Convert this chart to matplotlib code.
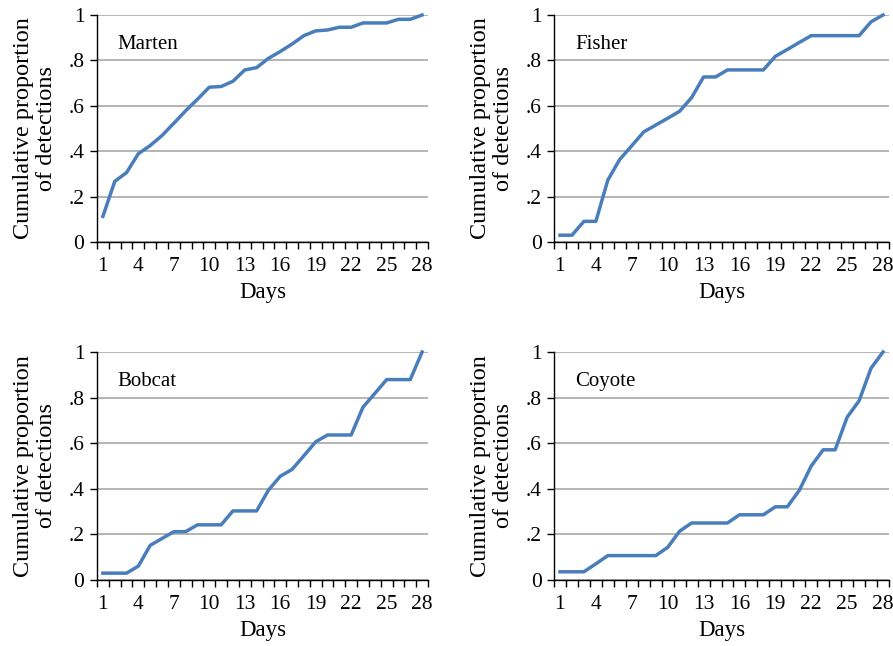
from matplotlib import pyplot as plt
import numpy

days = list(range(1, 29))

marten = [0.113, 0.267, 0.306, 0.389, 0.425, 0.469, 0.523, 0.578, 0.629, 0.682,
          0.685, 0.708, 0.758, 0.768, 0.809, 0.839, 0.872, 0.909, 0.930, 0.934,
          0.946, 0.946, 0.965, 0.965, 0.965, 0.981, 0.981, 1.0]
fisher = [0.030, 0.030, 0.091, 0.091, 0.273, 0.364, 0.424, 0.485, 0.515, 0.545,
          0.576, 0.636, 0.727, 0.727, 0.758, 0.758, 0.758, 0.758, 0.818, 0.848,
          0.879, 0.909, 0.909, 0.909, 0.909, 0.909, 0.970, 1.0]
bobcat = [0.030, 0.030, 0.030, 0.061, 0.152, 0.182, 0.212, 0.212, 0.242, 0.242,
          0.242, 0.303, 0.303, 0.303, 0.394, 0.455, 0.485, 0.545, 0.606, 0.636,
          0.636, 0.636, 0.758, 0.818, 0.879, 0.879, 0.879, 1.0]
coyote = [0.036, 0.036, 0.036, 0.071, 0.107, 0.107, 0.107, 0.107, 0.107, 0.143,
          0.214, 0.250, 0.250, 0.250, 0.250, 0.286, 0.286, 0.286, 0.321, 0.321,
          0.393, 0.500, 0.571, 0.571, 0.714, 0.786, 0.929, 1.0]

species = ['Marten', 'Fisher', 'Bobcat', 'Coyote']
series = [marten, fisher, bobcat, coyote]

x_labels = [1, 4, 7, 10, 13, 16, 19, 22, 25, 28]
y_ticks = [0, 0.2, 0.4, 0.6, 0.8, 1.0]
y_labels = ['0', '.2', '.4', '.6', '.8', '1']

plt.rcParams['font.family'] = ['Liberation Serif', 'DejaVu Serif']

W, H = 893, 646
# panel boxes in pixels: left, right, top, bottom
boxes = [(97, 428, 15, 242), (554, 889, 15, 242),
         (97, 428, 352, 580), (554, 889, 352, 580)]

fig = plt.figure(figsize=(W / 100, H / 100), dpi=100)

for name, vals, (l, r, t, b) in zip(species, series, boxes):
    ax = fig.add_axes([l / W, 1 - b / H, (r - l) / W, (b - t) / H])
    ax.plot(days, vals, color='#4a7ebb', lw=2.5, solid_joinstyle='round', clip_on=False)
    ax.set_xlim(0.5, 28.5)
    ax.set_ylim(0, 1)
    # labels at category centers, tick marks at category boundaries
    ax.set_xticks(x_labels)
    ax.set_xticklabels([str(d) for d in x_labels])
    ax.tick_params(axis='x', which='major', length=0, pad=11, labelsize=15.5)
    ax.set_xticks(numpy.arange(0.5, 29, 1), minor=True)
    ax.tick_params(axis='x', which='minor', length=5, direction='out', width=1)
    ax.set_yticks(y_ticks)
    ax.set_yticklabels(y_labels)
    ax.tick_params(axis='y', length=5, direction='out', width=1, labelsize=15.5, pad=4)
    ax.grid(axis='y', color='#a0a0a0', lw=1.1)
    ax.set_axisbelow(True)
    for s in ['top', 'right']:
        ax.spines[s].set_visible(False)
    for s in ['left', 'bottom']:
        ax.spines[s].set_linewidth(1)
    ax.set_xlabel('Days', fontsize=16.5, labelpad=4)
    ax.set_ylabel('Cumulative proportion\nof detections', fontsize=17.5, labelpad=8, linespacing=1.15)
    ax.text(0.063, 0.87, name, transform=ax.transAxes, fontsize=15, va='center', ha='left')

fig.savefig('out.png', dpi=100)
